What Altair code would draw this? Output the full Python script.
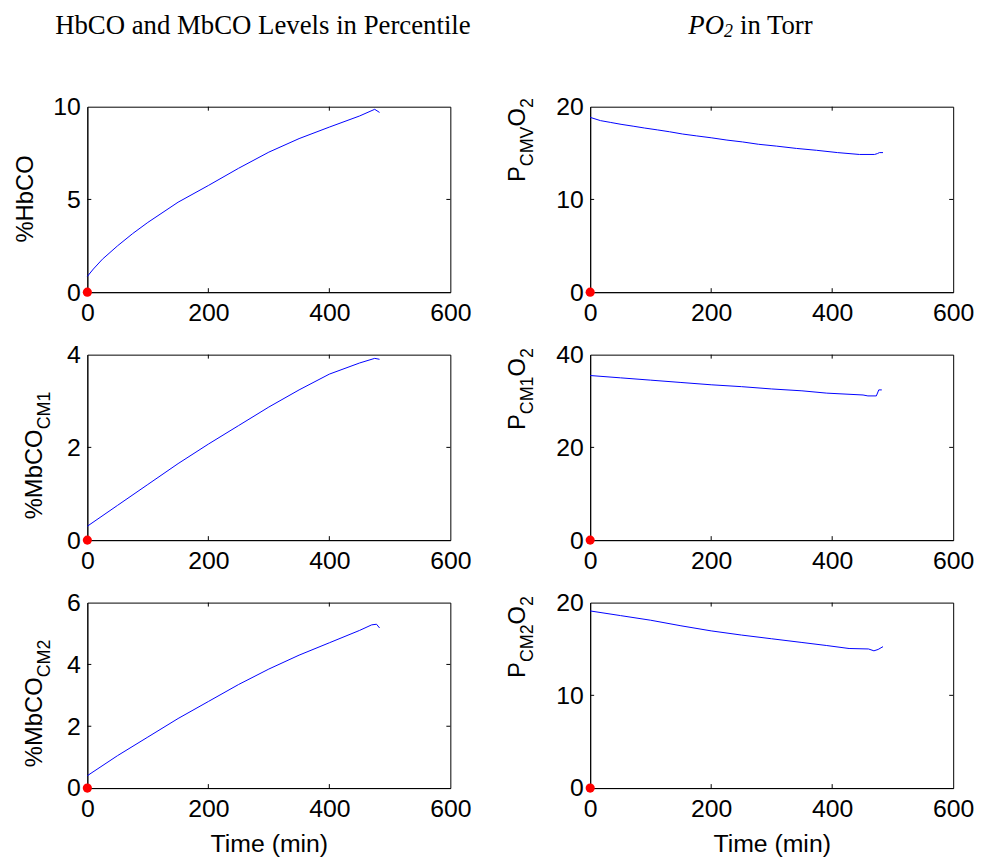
import altair as alt
import pandas as pd

# ---------------- data ----------------
t_hbco = [0, 10, 25, 50, 75, 100, 150, 200, 250, 300, 350, 400, 450, 475, 483]
hbco = [0.85, 1.25, 1.78, 2.5, 3.16, 3.76, 4.85, 5.75, 6.68, 7.55, 8.28, 8.9, 9.5, 9.86, 9.69]

t_cm1 = [0, 50, 100, 150, 200, 250, 300, 350, 400, 450, 475, 483]
mbco_cm1 = [0.3, 0.75, 1.2, 1.65, 2.07, 2.47, 2.87, 3.24, 3.58, 3.82, 3.92, 3.9]

t_cm2 = [0, 50, 100, 150, 200, 250, 300, 350, 400, 450, 470, 478, 483]
mbco_cm2 = [0.4, 1.05, 1.65, 2.25, 2.8, 3.35, 3.85, 4.3, 4.7, 5.1, 5.28, 5.3, 5.18]

t_pcmv = [0, 17, 34, 51, 71, 90, 111, 131, 153, 176, 200, 226, 252, 278, 308, 341, 374, 409, 445, 470, 475, 478, 484]
p_cmv = [18.85, 18.5, 18.3, 18.1, 17.9, 17.7, 17.5, 17.3, 17.05, 16.85, 16.65, 16.4, 16.2, 15.95, 15.75,
         15.5, 15.3, 15.05, 14.85, 14.85, 14.95, 15.05, 15.05]

t_pcm1 = [0, 50, 100, 150, 200, 250, 300, 350, 391, 451, 459, 473, 477, 482]
p_cm1 = [35.5, 35.0, 34.5, 34.0, 33.5, 33.1, 32.6, 32.2, 31.7, 31.3, 31.1, 31.1, 32.4, 32.4]

t_pcm2 = [0, 50, 100, 150, 200, 250, 300, 350, 391, 428, 460, 469, 476, 484]
p_cm2 = [19.1, 18.6, 18.1, 17.5, 16.95, 16.5, 16.1, 15.7, 15.37, 15.05, 15.0, 14.8, 14.95, 15.25]

x_ticks = [0, 200, 400, 600]
y_ticks_hbco = [0, 5, 10]
y_ticks_cm1 = [0, 2, 4]
y_ticks_cm2 = [0, 2, 4, 6]
y_ticks_pcmv = [0, 10, 20]
y_ticks_pcm1 = [0, 20, 40]
y_ticks_pcm2 = [0, 10, 20]

title_left = "HbCO and MbCO Levels in Percentile"
x_title = "Time (min)"

# ---------------- layout / style ----------------
W, H = 366, 187
BLUE = "#0000ff"
SANS = "Liberation Sans"
SERIF = "Liberation Serif"
FS = 25      # tick label size
LFS = 24     # y-title main size
SFS = 18     # subscript size
TFS = 27     # column title size
TY = -81     # column title centre, relative to the top panels

ARIAL = {"%": .889, "H": .722, "b": .556, "C": .722, "O": .778, "M": .833, "1": .556, "2": .556,
         "P": .667, "V": .667}


def tw(s, size):
    return sum(ARIAL.get(c, 0.6) for c in s) * size


def ylabel_layers(parts, bottom, base_x):
    """parts: list of (text, is_sub). Rotated text read bottom-to-top."""
    layers = []
    y = bottom
    for txt, sub in parts:
        size = SFS if sub else LFS
        bx = base_x + (8 if sub else 0)
        layers.append(
            alt.Chart(pd.DataFrame({"s": [txt]})).mark_text(
                angle=270, align="left", baseline="alphabetic", font=SANS,
                fontSize=size, color="black"
            ).encode(text="s:N", x=alt.value(bx), y=alt.value(y))
        )
        y -= tw(txt, size)
    return layers


def panel(t, v, ymax, yticks, parts, lab_bottom, lab_x, time_title=False, extra=None):
    df = pd.DataFrame({"t": t, "v": v})
    xs = alt.Scale(domain=[0, 600], nice=False)
    ys = alt.Scale(domain=[0, ymax], nice=False)
    xaxis = alt.Axis(values=x_ticks, ticks=False, tickSize=0, domain=True, domainColor="black",
                     domainWidth=1, grid=False,
                     labelFontSize=FS, labelFont=SANS, labelColor="black", labelPadding=9,
                     format="d", labelFlush=False,
                     title=x_title if time_title else None,
                     titleFont=SANS, titleFontSize=25, titleFontWeight="normal",
                     titleColor="black", titlePadding=10)
    yaxis = alt.Axis(values=yticks, ticks=False, tickSize=0, domain=True, domainColor="black",
                     domainWidth=1, grid=False,
                     labelFontSize=FS, labelFont=SANS, labelColor="black", labelPadding=7,
                     format="d", labelFlush=False, title=None)
    X = lambda: alt.X("t:Q", scale=xs, axis=xaxis)
    Y = lambda: alt.Y("v:Q", scale=ys, axis=yaxis)
    line = alt.Chart(df).mark_line(color=BLUE, strokeWidth=1).encode(x=X(), y=Y())
    dot = alt.Chart(pd.DataFrame({"t": [0], "v": [0]})).mark_circle(
        color="red", size=85, opacity=1
    ).encode(x=X(), y=Y())
    xt = pd.DataFrame({"t": x_ticks[1:-1]})
    yt = pd.DataFrame({"v": yticks[1:-1]})
    tick_style = dict(color="black", strokeWidth=1)
    ticks = [
        alt.Chart(xt).mark_rule(**tick_style).encode(
            x=X(), y=alt.value(H), y2=alt.value(H - 4)),
        alt.Chart(xt).mark_rule(**tick_style).encode(
            x=X(), y=alt.value(0), y2=alt.value(4)),
        alt.Chart(yt).mark_rule(**tick_style).encode(
            y=Y(), x=alt.value(0), x2=alt.value(4)),
        alt.Chart(yt).mark_rule(**tick_style).encode(
            y=Y(), x=alt.value(W), x2=alt.value(W - 4)),
    ]
    layers = [line] + ticks + ylabel_layers(parts, lab_bottom, lab_x) + (extra or []) + [dot]
    return alt.layer(*layers).properties(width=W, height=H)


# column titles
title_l = [alt.Chart(pd.DataFrame({"s": [title_left]})).mark_text(
    font=SERIF, fontSize=TFS, align="center", baseline="middle", color="black"
).encode(text="s:N", x=alt.value(177), y=alt.value(TY))]

title_r = [
    alt.Chart(pd.DataFrame({"s": ["PO"]})).mark_text(
        font=SERIF, fontSize=TFS, fontStyle="italic", align="left", baseline="middle", color="black"
    ).encode(text="s:N", x=alt.value(99), y=alt.value(TY)),
    alt.Chart(pd.DataFrame({"s": ["2"]})).mark_text(
        font=SERIF, fontSize=18, fontStyle="italic", align="left", baseline="middle", color="black"
    ).encode(text="s:N", x=alt.value(135), y=alt.value(TY + 6)),
    alt.Chart(pd.DataFrame({"s": ["in Torr"]})).mark_text(
        font=SERIF, fontSize=TFS, align="left", baseline="middle", color="black"
    ).encode(text="s:N", x=alt.value(151), y=alt.value(TY)),
]

p1 = panel(t_hbco, hbco, 10, y_ticks_hbco, [("%HbCO", False)], 137, -55, extra=title_l)
p2 = panel(t_pcmv, p_cmv, 20, y_ticks_pcmv,
           [("P", False), ("CMV", True), ("O", False), ("2", True)], 76, -66, extra=title_r)
p3 = panel(t_cm1, mbco_cm1, 4, y_ticks_cm1, [("%MbCO", False), ("CM1", True)], 166, -46)
p4 = panel(t_pcm1, p_cm1, 40, y_ticks_pcm1,
           [("P", False), ("CM1", True), ("O", False), ("2", True)], 76, -66)
p5 = panel(t_cm2, mbco_cm2, 6, y_ticks_cm2, [("%MbCO", False), ("CM2", True)], 166, -46,
           time_title=True)
p6 = panel(t_pcm2, p_cm2, 20, y_ticks_pcm2,
           [("P", False), ("CM2", True), ("O", False), ("2", True)], 76, -66, time_title=True)

chart = alt.concat(
    p1, p2, p3, p4, p5, p6, columns=2,
    spacing={"row": 63, "column": 141}, bounds="flush"
).properties(
    padding={"left": 5, "top": 0, "right": 0, "bottom": -2},
    background="white",
).configure_view(stroke="black", strokeWidth=1)

chart.save("out.html", embed_options={"renderer": "svg", "actions": False})
